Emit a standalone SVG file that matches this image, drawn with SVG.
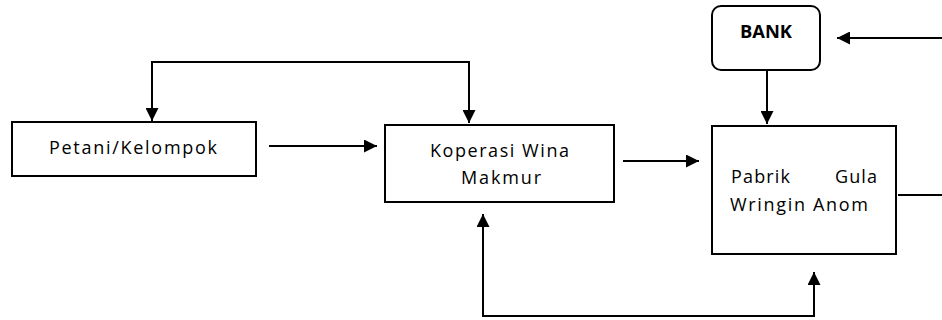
<svg xmlns="http://www.w3.org/2000/svg" width="942" height="320" viewBox="0 0 942 320">
<style>
.box{fill:#fff;stroke:#000;stroke-width:2}
.lbl{font-family:"Open Sans","Liberation Sans",Arial,sans-serif;font-size:18px;fill:#000}
.bold{font-weight:bold}
.con{fill:none;stroke:#000;stroke-width:2}
</style>
<defs>
<marker id="ah" markerUnits="userSpaceOnUse" markerWidth="13" markerHeight="13" refX="13" refY="6.5" orient="auto-start-reverse">
<path d="M0,0 L13,6.5 L0,13 z" fill="#000"/>
</marker>
</defs>
<rect width="942" height="320" fill="#fff"/>
<g id="petani">
<rect class="box" x="12" y="122" width="244" height="54"/>
<text class="lbl" x="49" y="154" textLength="168" lengthAdjust="spacing">Petani/Kelompok</text>
</g>
<g id="koperasi">
<rect class="box" x="385" y="125" width="229" height="77"/>
<text class="lbl" x="430" y="157" textLength="139" lengthAdjust="spacing">Koperasi Wina</text>
<text class="lbl" x="461" y="184" textLength="80" lengthAdjust="spacing">Makmur</text>
</g>
<g id="bank">
<rect class="box" x="712" y="6" width="108" height="64" rx="9" ry="9"/>
<text class="lbl bold" x="740" y="38" textLength="52" lengthAdjust="spacingAndGlyphs">BANK</text>
</g>
<g id="pabrik">
<rect class="box" x="712" y="126" width="184" height="128"/>
<text class="lbl" x="731" y="183" textLength="59" lengthAdjust="spacing">Pabrik</text>
<text class="lbl" x="835" y="183" textLength="42" lengthAdjust="spacing">Gula</text>
<text class="lbl" x="730" y="211" textLength="138" lengthAdjust="spacing">Wringin Anom</text>
</g>
<g id="connectors">
<polyline class="con" points="152,121 152,62 469,62 469,123" marker-start="url(#ah)" marker-end="url(#ah)"/>
<line class="con" x1="269" y1="146" x2="377" y2="146" marker-end="url(#ah)"/>
<line class="con" x1="623" y1="161" x2="699" y2="161" marker-end="url(#ah)"/>
<line class="con" x1="767" y1="70" x2="767" y2="124" marker-end="url(#ah)"/>
<line class="con" x1="942" y1="38" x2="837" y2="38" marker-end="url(#ah)"/>
<polyline class="con" points="483,214 483,316 814,316 814,272" marker-start="url(#ah)" marker-end="url(#ah)"/>
<line class="con" x1="898" y1="195" x2="942" y2="195"/>
</g>
</svg>
